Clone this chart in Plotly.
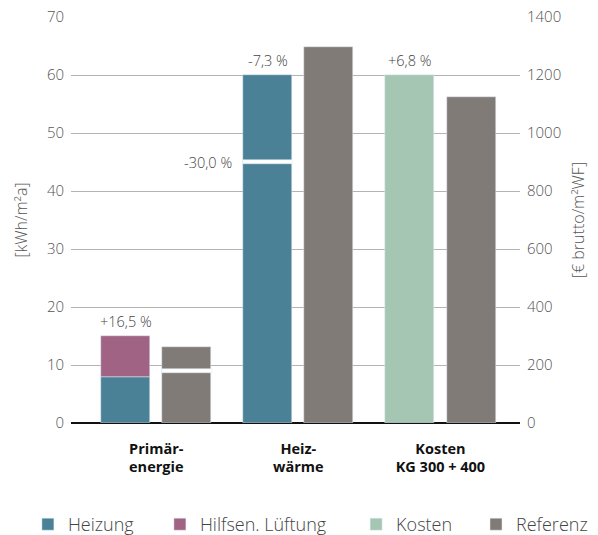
import plotly.graph_objects as go

# categories and values
categories = ["Primär-<br>energie", "Heiz-<br>wärme", "Kosten<br>KG 300 + 400"]
heizung = [7.9, 60.0, None]          # kWh/m²a
lueftung = [7.1, None, None]         # stacked on Heizung
referenz = [13.1, 64.8, None]        # kWh/m²a
kosten = [None, None, 1200]          # €/m²WF
referenz_kosten = [None, None, 1124] # €/m²WF
split_left = [None, 45.0, None]      # white divider inside the left bar
split_right = [9.0, None, None]      # white divider inside the Referenz bar
labels = ["+16,5 %", "-7,3 %", "+6,8 %"]
label_30 = "-30,0 %"

c_heiz = "#4a8197"
c_luef = "#a06384"
c_kost = "#a6c6b4"
c_ref = "#807b77"

bw = 0.345
off_l = -0.2155 - bw / 2
off_r = 0.2155 - bw / 2
gap = 0.65
font = "Open Sans"

# one small legend per entry so the row can be wider than the plot area
legend_x = [-0.096, 0.198, 0.635, 0.902]

fig = go.Figure()
fig.add_trace(go.Bar(x=categories, y=heizung, name="Heizung", marker_color=c_heiz,
                     width=bw, offset=off_l, legend="legend"))
fig.add_trace(go.Bar(x=categories, y=lueftung, base=[h if h else 0 for h in heizung],
                     name="Hilfsen. Lüftung", marker_color=c_luef, width=bw, offset=off_l,
                     legend="legend2"))
fig.add_trace(go.Bar(x=categories, y=kosten, name="Kosten", marker_color=c_kost,
                     width=bw, offset=off_l, yaxis="y2", legend="legend3"))
fig.add_trace(go.Bar(x=categories, y=referenz, name="Referenz", marker_color=c_ref,
                     width=bw, offset=off_r, legendgroup="ref", legend="legend4"))
fig.add_trace(go.Bar(x=categories, y=referenz_kosten, name="Referenz", marker_color=c_ref,
                     width=bw, offset=off_r, yaxis="y2", legendgroup="ref", showlegend=False))

# white dividers
fig.add_trace(go.Bar(x=categories, y=[gap if s else None for s in split_left],
                     base=[s - gap / 2 if s else 0 for s in split_left],
                     marker_color="white", width=bw + 0.01, offset=off_l - 0.005, showlegend=False))
fig.add_trace(go.Bar(x=categories, y=[gap if s else None for s in split_right],
                     base=[s - gap / 2 if s else 0 for s in split_right],
                     marker_color="white", width=bw + 0.01, offset=off_r - 0.005, showlegend=False))

ann_font = dict(family=font, size=14.5, color="#444", weight=300)
tops = [heizung[0] + lueftung[0], heizung[1], kosten[2]]
for i, (t, lab) in enumerate(zip(tops, labels)):
    fig.add_annotation(x=i - 0.2155, y=t, yref="y2" if i == 2 else "y", text=lab,
                       showarrow=False, yanchor="bottom", yshift=3, font=ann_font)
fig.add_annotation(x=1 + off_l, y=split_left[1], text=label_30, showarrow=False,
                   xanchor="right", xshift=-9, font=ann_font)

tick_font = dict(family=font, size=15, color="#555", weight=300)
title_font = dict(family=font, size=16, color="#555", weight=300)
leg = dict(orientation="h", y=-0.25, yanchor="middle", xanchor="left",
           font=dict(family=font, size=18, color="#444", weight=300), bgcolor="rgba(0,0,0,0)")

fig.update_layout(
    width=598, height=535,
    barmode="overlay",
    bargap=0,
    plot_bgcolor="white",
    paper_bgcolor="white",
    margin=dict(l=71, r=78, t=17, b=112, autoexpand=False),
    font=dict(family=font, color="#444"),
    xaxis=dict(range=[-0.6, 2.56], showgrid=False, ticks="", ticklabelstandoff=15,
               tickfont=dict(family=font, size=14.5, color="#111", weight="bold")),
    yaxis=dict(range=[0, 70], dtick=10, showgrid=True, gridcolor="#b3b3b3", gridwidth=1,
               zeroline=True, zerolinecolor="#111", zerolinewidth=2, tickfont=tick_font,
               ticklabelstandoff=6,
               title=dict(text="[kWh/m²a]", font=title_font, standoff=15)),
    yaxis2=dict(range=[0, 1400], dtick=200, overlaying="y", side="right", showgrid=False,
                zeroline=False, tickfont=tick_font, ticklabelstandoff=6,
                title=dict(text="[€ brutto/m²WF]", font=title_font, standoff=12)),
    legend=dict(leg, x=legend_x[0]),
    legend2=dict(leg, x=legend_x[1]),
    legend3=dict(leg, x=legend_x[2]),
    legend4=dict(leg, x=legend_x[3]),
)

# drop the default page margin so the figure sits at the window's corner
fig.write_html("out.html", config={"displayModeBar": False},
               post_script="document.body.style.margin='0';")
